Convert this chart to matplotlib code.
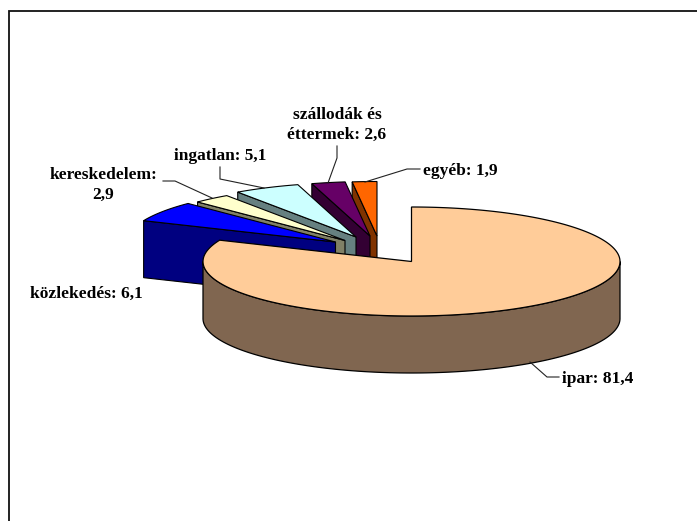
import matplotlib

matplotlib.use("Agg")
import matplotlib.pyplot as plt
from matplotlib.patches import Polygon
import numpy as np

plt.rcParams["font.family"] = "Liberation Serif"

# adatok
categories = ["ipar", "közlekedés", "kereskedelem", "ingatlan", "szállodák és\néttermek", "egyéb"]
values = [81.4, 6.1, 2.9, 5.1, 2.6, 1.9]
value_labels = ["81,4", "6,1", "2,9", "5,1", "2,6", "1,9"]

top_colors = ["#FFCC99", "#0000FF", "#FFFFCC", "#CCFFFF", "#660066", "#FF6600"]
side_colors = ["#806650", "#000080", "#808066", "#668080", "#330033", "#803300"]

# pie layout, in pixels
cx, cy = 411.5, 261.5
rx, ry = 208.5, 54.5
depth = 57
explode_xy = [(0, 0), (-76, -19.5), (-66.5, -21), (-55.5, -24.5), (-41.5, -25.5), (-34.5, -25.5)]


def ring(a0, a1, x0, y0, n=80):
    # angles run anticlockwise from 12 o'clock, as in the original chart
    t = np.radians(np.linspace(a0, a1, n))
    return np.column_stack([x0 - rx * np.sin(t), y0 - ry * np.cos(t)])


fig = plt.figure(figsize=(6.97, 5.21), dpi=100)
ax = fig.add_axes([0, 0, 1, 1])
ax.set_xlim(0, 697)
ax.set_ylim(521, 0)
ax.axis("off")

angles = 360 * np.cumsum([0] + values) / sum(values)
# ipar goes clockwise from the top, the others finish the circle
starts = [360 - angles[1]]
ends = [360]
for i in range(1, len(values)):
    starts.append(360 - angles[i + 1])
    ends.append(360 - angles[i])

# small slices back to front, ipar last
for i in range(len(values) - 1, 0, -1):
    x0 = cx + explode_xy[i][0]
    y0 = cy + explode_xy[i][1]
    arc = ring(starts[i], ends[i], x0, y0)
    face = [(x0, y0), tuple(arc[-1]), (arc[-1][0], arc[-1][1] + depth), (x0, y0 + depth)]
    ax.add_patch(Polygon(face, closed=True, fc=side_colors[i], ec="black", lw=0.8, zorder=2))
    top = np.vstack([[x0, y0], arc])
    ax.add_patch(Polygon(top, closed=True, fc=top_colors[i], ec="black", lw=0.8, zorder=2))

# ipar: rim then top
front = ring(-90, -270, cx, cy, n=200)
rim = np.vstack([front, (front + [0, depth])[::-1]])
ax.add_patch(Polygon(rim, closed=True, fc=side_colors[0], ec="black", lw=0.9, zorder=3))
arc = ring(0, -(360 - starts[0]), cx, cy, n=300)
top = np.vstack([[cx, cy], arc])
ax.add_patch(Polygon(top, closed=True, fc=top_colors[0], ec="black", lw=0.9, zorder=3))

# chart frame, only top and left fall inside the picture
ax.plot([9, 9, 697], [521, 10.5, 10.5], color="#111111", lw=1.3, zorder=1, solid_joinstyle="miter")

# leader lines
leaders = [
    ([530, 547, 559], [362, 377, 377]),
    ([163, 175, 212], [181, 181, 198]),
    ([220, 220, 264], [167, 179, 188]),
    ([337, 337, 328], [146, 158, 183]),
    ([365, 407, 420], [182, 169, 169]),
]
for xs, ys in leaders:
    ax.plot(xs, ys, color="#222222", lw=0.8, zorder=4)

label_style = dict(fontsize=12.5, fontweight="bold", color="black", zorder=5, linespacing=1.35)
ax.text(562, 379, f"{categories[0]}: {value_labels[0]}", ha="left", va="center", **label_style)
ax.text(30, 294, f"{categories[1]}: {value_labels[1]}", ha="left", va="center", **label_style)
ax.text(103, 185, f"{categories[2]}:\n{value_labels[2]}", ha="center", va="center", **label_style)
ax.text(220, 156, f"{categories[3]}: {value_labels[3]}", ha="center", va="center", **label_style)
ax.text(337, 125, f"{categories[4]}: {value_labels[4]}", ha="center", va="center", **label_style)
ax.text(423, 171, f"{categories[5]}: {value_labels[5]}", ha="left", va="center", **label_style)

fig.savefig("out.png", dpi=100)
